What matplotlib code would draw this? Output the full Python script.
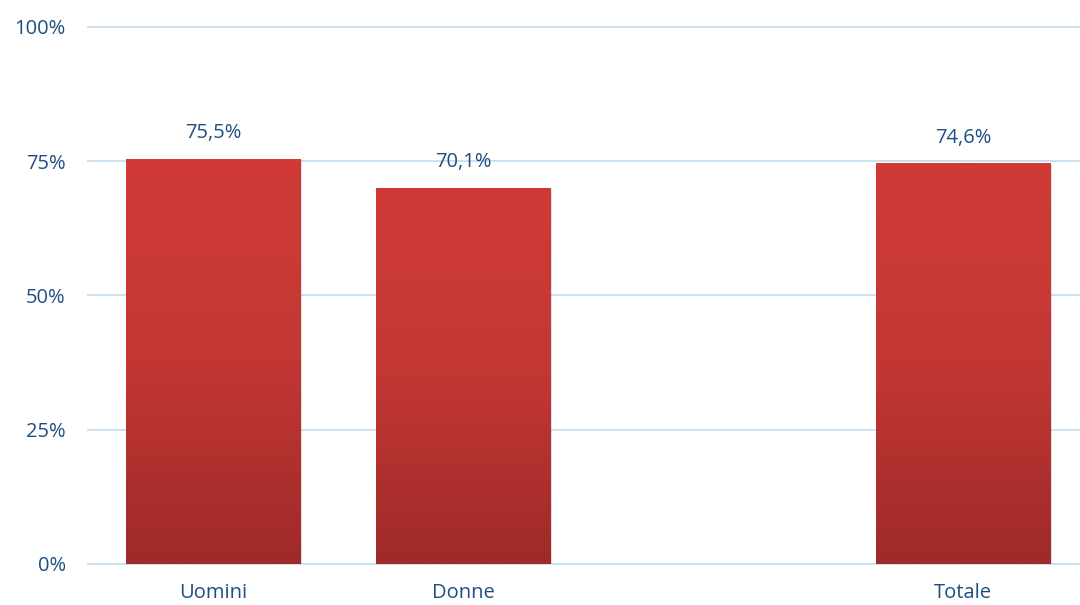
import matplotlib.pyplot as plt
import numpy as np
from matplotlib.colors import LinearSegmentedColormap

categories = ['Uomini', 'Donne', '', 'Totale']
values = [75.5, 70.1, None, 74.6]
yticks = [0, 25, 50, 75, 100]

text_color = '#1f4f82'
grid_color = '#c9def0'
bar_cmap = LinearSegmentedColormap.from_list('redgrad', ['#9e2a29', '#c23734', '#d03b38'])

plt.rcParams['font.family'] = ['Open Sans', 'DejaVu Sans']

fig = plt.figure(figsize=(10.8, 6.05), dpi=100)
ax = fig.add_axes([0.0815, 0.0678, 0.9185, 0.8877])

x = np.arange(len(categories))
grad = np.linspace(0, 1, 256).reshape(-1, 1)
for xi, v in zip(x, values):
    if v is None:
        continue
    # soft shadow
    shadow = plt.Rectangle((xi - 0.35 + 0.006, 0), 0.7, v - 0.3, facecolor='#000000',
                           alpha=0.12, edgecolor='none', zorder=2)
    ax.add_patch(shadow)
    bar = ax.bar(xi, v, width=0.7, color='none', edgecolor='none', zorder=3)[0]
    im = ax.imshow(grad, cmap=bar_cmap, origin='lower', aspect='auto',
                   extent=[xi - 0.35, xi + 0.35, 0, v], zorder=3)
    im.set_clip_path(bar)
    ax.annotate(f'{v:.1f}%'.replace('.', ','), (xi, v), xytext=(0, 11),
                textcoords='offset points', ha='center', va='bottom',
                fontsize=14.5, color=text_color)

ax.set_xlim(-0.5, 3.468)
ax.set_ylim(0, 100)
ax.set_yticks(yticks)
ax.set_yticklabels([f'{t}%' for t in yticks])
ax.set_xticks(x)
ax.set_xticklabels(categories)
ax.yaxis.grid(True, color=grid_color, linewidth=1.3, zorder=0)
for gl in ax.get_ygridlines():
    gl.set_clip_on(False)
ax.set_axisbelow(True)
for s in ax.spines.values():
    s.set_visible(False)
ax.tick_params(axis='both', length=0, labelsize=14.5, labelcolor=text_color)
ax.tick_params(axis='y', pad=16)
ax.tick_params(axis='x', pad=14)

fig.savefig('out.png', dpi=100)
